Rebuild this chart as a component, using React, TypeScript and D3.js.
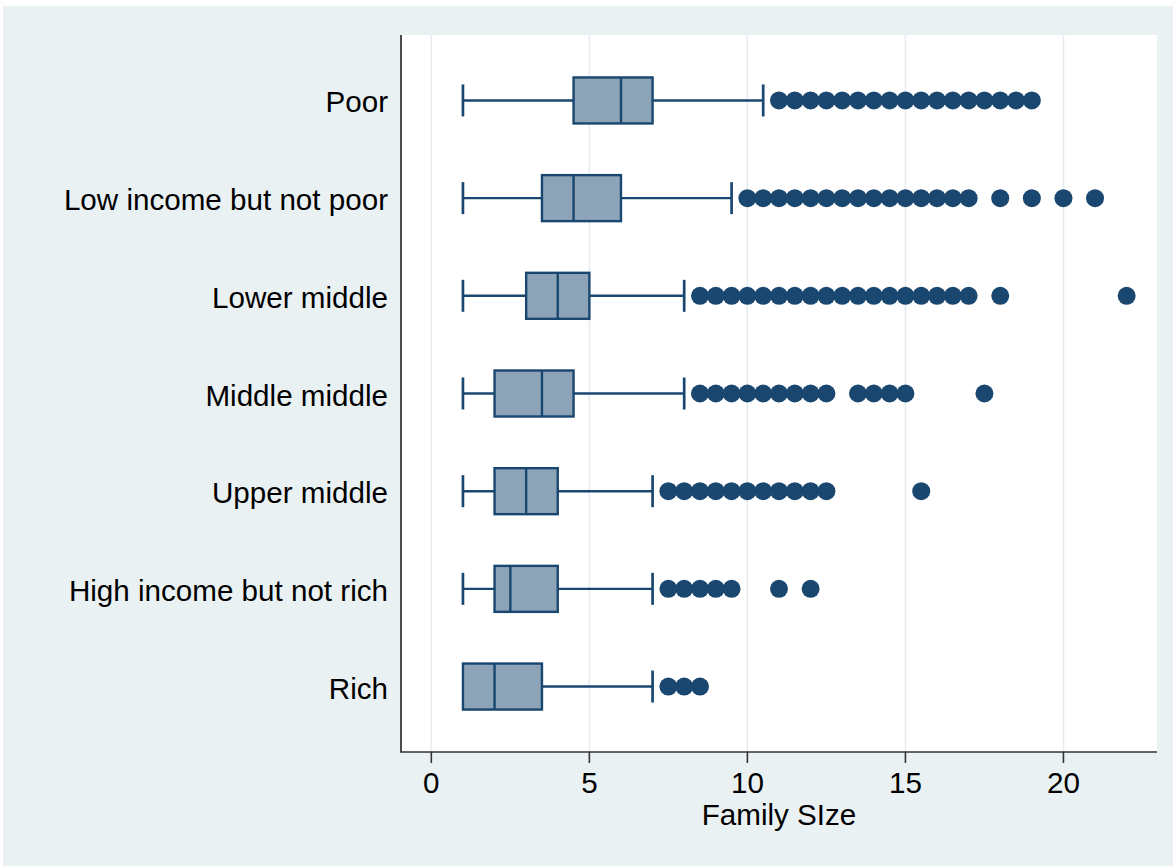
import React from "react";
import * as d3 from "d3";

const categories = [
  "Poor",
  "Low income but not poor",
  "Lower middle",
  "Middle middle",
  "Upper middle",
  "High income but not rich",
  "Rich",
];
const whiskerLo = [1, 1, 1, 1, 1, 1, 1];
const q1 = [4.5, 3.5, 3, 2, 2, 2, 1];
const median = [6, 4.5, 4, 3.5, 3, 2.5, 2];
const q3 = [7, 6, 5, 4.5, 4, 4, 3.5];
const whiskerHi = [10.5, 9.5, 8, 8, 7, 7, 7];

const outliersPoor = [11, 11.5, 12, 12.5, 13, 13.5, 14, 14.5, 15, 15.5, 16, 16.5, 17, 17.5, 18, 18.5, 19];
const outliersLow = [10, 10.5, 11, 11.5, 12, 12.5, 13, 13.5, 14, 14.5, 15, 15.5, 16, 16.5, 17, 18, 19, 20, 21];
const outliersLowerMiddle = [8.5, 9, 9.5, 10, 10.5, 11, 11.5, 12, 12.5, 13, 13.5, 14, 14.5, 15, 15.5, 16, 16.5, 17, 18, 22];
const outliersMiddleMiddle = [8.5, 9, 9.5, 10, 10.5, 11, 11.5, 12, 12.5, 13.5, 14, 14.5, 15, 17.5];
const outliersUpperMiddle = [7.5, 8, 8.5, 9, 9.5, 10, 10.5, 11, 11.5, 12, 12.5, 15.5];
const outliersHigh = [7.5, 8, 8.5, 9, 9.5, 11, 12];
const outliersRich = [7.5, 8, 8.5];
const outliers = [
  outliersPoor,
  outliersLow,
  outliersLowerMiddle,
  outliersMiddleMiddle,
  outliersUpperMiddle,
  outliersHigh,
  outliersRich,
];

const xTicks = [0, 5, 10, 15, 20];
const xTitle = "Family SIze";

const W = 1173;
const H = 866;
const plot = { left: 401, right: 1157, top: 35, bottom: 752 };

const BG = "#EAF1F3";
const GRID = "#E4ECEF";
const NAVY = "#1A476F";
const BOXFILL = "#8CA3B8";
const FONT = "'Liberation Sans', Arial, Helvetica, sans-serif";
const FS = 29.6;
const SW = 2.4;

export default function App() {
  const x = d3.scaleLinear().domain([-0.96, 22.96]).range([plot.left, plot.right]);
  const y = d3
    .scalePoint<string>()
    .domain(categories)
    .range([plot.top, plot.bottom])
    .padding(0.67);
  const boxH = 46;
  const capH = 32;

  return (
    <div style={{ position: "absolute", left: 0, top: 0 }}>
      <svg width={W} height={H} style={{ display: "block" }}>
        <rect x={0} y={0} width={W} height={H} fill="#ffffff" />
        <rect x={3} y={6} width={W - 3} height={H - 6} fill={BG} />
        <rect
          x={plot.left}
          y={plot.top}
          width={plot.right - plot.left}
          height={plot.bottom - plot.top}
          fill="#ffffff"
        />
        {xTicks.map((t) => (
          <line
            key={"g" + t}
            x1={x(t)}
            x2={x(t)}
            y1={plot.top}
            y2={plot.bottom}
            stroke={GRID}
            strokeWidth={1.5}
          />
        ))}
        {categories.map((c, i) => {
          const cy = y(c) as number;
          return (
            <g key={c}>
              {whiskerLo[i] < q1[i] && (
                <>
                  <line x1={x(whiskerLo[i])} x2={x(q1[i])} y1={cy} y2={cy} stroke={NAVY} strokeWidth={SW} />
                  <line
                    x1={x(whiskerLo[i])}
                    x2={x(whiskerLo[i])}
                    y1={cy - capH / 2}
                    y2={cy + capH / 2}
                    stroke={NAVY}
                    strokeWidth={SW + 0.3}
                  />
                </>
              )}
              <line x1={x(q3[i])} x2={x(whiskerHi[i])} y1={cy} y2={cy} stroke={NAVY} strokeWidth={SW} />
              <line
                x1={x(whiskerHi[i])}
                x2={x(whiskerHi[i])}
                y1={cy - capH / 2}
                y2={cy + capH / 2}
                stroke={NAVY}
                strokeWidth={SW + 0.3}
              />
              <rect
                x={x(q1[i])}
                y={cy - boxH / 2}
                width={x(q3[i]) - x(q1[i])}
                height={boxH}
                fill={BOXFILL}
                stroke={NAVY}
                strokeWidth={SW}
              />
              <line
                x1={x(median[i])}
                x2={x(median[i])}
                y1={cy - boxH / 2}
                y2={cy + boxH / 2}
                stroke={NAVY}
                strokeWidth={SW}
              />
              {outliers[i].map((v, j) => (
                <circle key={j} cx={x(v)} cy={cy} r={9} fill={NAVY} />
              ))}
              <text
                x={388}
                y={cy + 12}
                textAnchor="end"
                fontFamily={FONT}
                fontSize={FS}
                fill="#000"
              >
                {c}
              </text>
            </g>
          );
        })}
        <line x1={plot.left} x2={plot.left} y1={plot.top} y2={plot.bottom + 0.75} stroke="#222" strokeWidth={1.6} />
        <line x1={plot.left} x2={plot.right} y1={plot.bottom} y2={plot.bottom} stroke="#333" strokeWidth={1.6} />
        {xTicks.map((t) => (
          <g key={"t" + t}>
            <line x1={x(t)} x2={x(t)} y1={plot.bottom} y2={plot.bottom + 11} stroke="#333" strokeWidth={1.6} />
            <text
              x={x(t)}
              y={793}
              textAnchor="middle"
              fontFamily={FONT}
              fontSize={FS}
              fill="#000"
            >
              {t}
            </text>
          </g>
        ))}
        <text
          x={(plot.left + plot.right) / 2}
          y={825}
          textAnchor="middle"
          fontFamily={FONT}
          fontSize={FS}
          fill="#000"
        >
          {xTitle}
        </text>
      </svg>
    </div>
  );
}
